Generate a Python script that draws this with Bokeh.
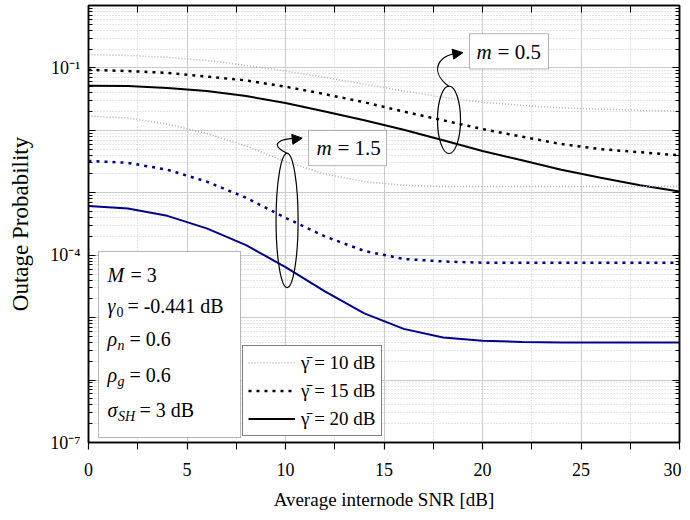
from bokeh.plotting import figure
from bokeh.embed import file_html
from bokeh.resources import INLINE
from bokeh.models import (FixedTicker, LogAxis, LinearAxis, Range1d, LinearScale, Legend,
                          LegendItem, Label, BoxAnnotation, Arrow, NormalHead,
                          CustomJSTickFormatter)

# ---------------- data ----------------
snr_db = [0, 2, 4, 6, 8, 10, 12, 14, 16, 18, 20, 22, 24, 26, 28, 30]

# m = 0.5
pout_m05_g10 = [0.164, 0.158, 0.148, 0.132, 0.110, 0.0891, 0.0708, 0.0550, 0.0427, 0.0339,
                0.0282, 0.0251, 0.0229, 0.0219, 0.0209, 0.0204]
pout_m05_g15 = [0.0933, 0.0891, 0.0832, 0.0724, 0.0631, 0.0501, 0.0380, 0.0282, 0.0200, 0.0145,
                0.0105, 0.00794, 0.00603, 0.00501, 0.00447, 0.00398]
pout_m05_g20 = [0.0519, 0.0513, 0.0479, 0.0427, 0.0355, 0.0275, 0.0200, 0.0145, 0.0102, 0.00692,
                0.00468, 0.00331, 0.00234, 0.00174, 0.00132, 0.00105]
# m = 1.5
pout_m15_g10 = [0.0170, 0.0158, 0.0126, 0.00891, 0.00562, 0.00316, 0.00200, 0.00151, 0.00132, 0.00126,
                0.00126, 0.00126, 0.00126, 0.00126, 0.00126, 0.00126]
pout_m15_g15 = [3.24e-3, 3.02e-3, 2.34e-3, 1.51e-3, 8.32e-4, 3.98e-4, 2.00e-4, 1.17e-4, 8.71e-5, 7.94e-5,
                7.59e-5, 7.59e-5, 7.59e-5, 7.59e-5, 7.59e-5, 7.59e-5]
pout_m15_g20 = [6.17e-4, 5.62e-4, 4.27e-4, 2.69e-4, 1.45e-4, 6.46e-5, 2.63e-5, 1.17e-5, 6.61e-6, 4.79e-6,
                4.27e-6, 4.07e-6, 3.98e-6, 3.98e-6, 3.98e-6, 3.98e-6]

x_major = [0, 5, 10, 15, 20, 25, 30]
x_minor = [2.5, 7.5, 12.5, 17.5, 22.5, 27.5]
y_major = [1e-7, 1e-6, 1e-5, 1e-4, 1e-3, 1e-2, 1e-1, 1.0]
y_labels = {1e-7: "10\u207b\u2077", 1e-6: "", 1e-5: "", 1e-4: "10\u207b\u2074", 1e-3: "", 1e-2: "",
            1e-1: "10\u207b\u00b9", 1.0: ""}
y_minor = [k * 10.0 ** e for e in range(-7, 0) for k in range(2, 10)]

legend_labels = ["\u03b3\u0304 = 10 dB", "\u03b3\u0304 = 15 dB", "\u03b3\u0304 = 20 dB"]

FONT = "Liberation Serif"
NAVY = "#00008b"

# ---------------- figure ----------------
p = figure(frame_width=591, frame_height=437, y_axis_type="log",
           x_range=Range1d(0, 30), y_range=Range1d(1e-7, 1.0),
           output_backend="svg", toolbar_location=None,
           min_border_left=88, min_border_right=2, min_border_top=5, min_border_bottom=70)
p.extra_y_ranges = {"dec": Range1d(-7, 0)}
p.extra_y_scales = {"dec": LinearScale()}
p.outline_line_color = "black"
p.outline_line_width = 1.5

xt = FixedTicker(ticks=x_major, minor_ticks=x_minor)
yt = FixedTicker(ticks=y_major, minor_ticks=y_minor)

xa = p.xaxis[0]
xa.ticker = xt
xa.axis_label = "Average internode SNR [dB]"
ya = p.yaxis[0]
ya.ticker = yt
ya.axis_label = "Outage Probability"
ya.major_label_overrides = y_labels

for ax in (xa, ya):
    ax.axis_label_text_font = FONT
    ax.axis_label_text_font_style = "normal"
    ax.axis_label_text_color = "black"
    ax.major_label_text_font = FONT
    ax.major_label_text_font_size = "18px"
    ax.major_label_text_color = "black"
    ax.axis_line_width = 1.5
    ax.major_tick_line_width = 1.2
    ax.minor_tick_line_width = 1.0
xa.axis_label_text_font_size = "19px"
ya.axis_label_text_font_size = "23px"

xa.major_tick_in = 0
xa.major_tick_out = 7
xa.minor_tick_in = 0
xa.minor_tick_out = 7
xa.major_label_standoff = 13
xa.axis_label_standoff = 10

ya.major_tick_in = 7
ya.major_tick_out = 0
ya.minor_tick_in = 4
ya.minor_tick_out = 0
ya.major_label_standoff = 8
ya.axis_label_standoff = 14

blank = CustomJSTickFormatter(code="return ''")
top = LinearAxis(ticker=xt, formatter=blank, major_tick_in=7, major_tick_out=0,
                 minor_tick_in=7, minor_tick_out=0, major_label_standoff=0,
                 major_label_text_font_size="0px", axis_line_width=1.5)
right = LogAxis(ticker=yt, formatter=blank, major_tick_in=7, major_tick_out=0,
                minor_tick_in=4, minor_tick_out=0, major_label_standoff=0,
                major_label_text_font_size="0px", axis_line_width=1.5)
p.add_layout(top, "above")
p.add_layout(right, "right")

GRID = "#cccccc"
p.xgrid.ticker = xt
p.ygrid.ticker = yt
for g in (p.xgrid, p.ygrid):
    g.grid_line_color = GRID
    g.grid_line_width = 1
    g.minor_grid_line_color = GRID
    g.minor_grid_line_dash = "1 2"
    g.minor_grid_line_width = 1

# ---------------- curves ----------------
r_b10 = p.line(snr_db, pout_m05_g10, line_color="#b4b4b4", line_width=1.5, line_dash="1 2")
r_b15 = p.line(snr_db, pout_m05_g15, line_color="black", line_width=2.5, line_dash="3 5")
r_b20 = p.line(snr_db, pout_m05_g20, line_color="black", line_width=2)
p.line(snr_db, pout_m15_g10, line_color="#a8a8dc", line_width=1.5, line_dash="1 2")
p.line(snr_db, pout_m15_g15, line_color=NAVY, line_width=2.5, line_dash="3 5")
p.line(snr_db, pout_m15_g20, line_color=NAVY, line_width=2)

# ---------------- annotations (ellipses + curved arrows) ----------------
p.ellipse(x=[18.30, 10.08], y=[-1.831, -3.444], width=[1.17, 1.12], height=[1.08, 2.15],
          fill_color=None, line_color="black", line_width=1.2, y_range_name="dec")
p.bezier(x0=[18.27, 10.10], y0=[-1.290, -2.371], x1=[18.98, 10.81], y1=[-0.758, -2.129],
         cx0=[17.21, 9.09], cy0=[-1.032, -2.226], cx1=[17.82, 9.70], cy1=[-0.758, -2.113],
         line_color="black", line_width=1.2, y_range_name="dec")
for xs, ys, xe, ye in [(18.6, -0.775, 19.0, -0.755), (10.45, -2.14, 10.85, -2.125)]:
    p.add_layout(Arrow(x_start=xs, y_start=ys, x_end=xe, y_end=ye, y_range_name="dec",
                       line_width=1.2, line_color="black",
                       end=NormalHead(size=10, fill_color="black", line_color="black")))

def add_text(x, y, txt, xoff=0, yoff=0, size="20px", style="normal"):
    p.add_layout(Label(x=x, y=y, text=txt, x_offset=xoff, y_offset=yoff, y_range_name="dec",
                       text_font=FONT, text_font_size=size, text_font_style=style,
                       text_color="black", text_baseline="middle", text_align="left"))

# m boxes
p.add_layout(BoxAnnotation(left=19.34, right=23.35, top=-0.452, bottom=-1.016, y_range_name="dec",
                           fill_color="white", fill_alpha=1, line_color="black", line_width=1))
add_text(19.70, -0.742, "m", style="italic", size="21px")
add_text(19.70, -0.742, "= 0.5", xoff=21, size="21px")
p.add_layout(BoxAnnotation(left=11.17, right=15.13, top=-2.0, bottom=-2.565, y_range_name="dec",
                           fill_color="white", fill_alpha=1, line_color="black", line_width=1))
add_text(11.57, -2.29, "m", style="italic", size="21px")
add_text(11.57, -2.29, "= 1.5", xoff=21, size="21px")

# parameter box
p.add_layout(BoxAnnotation(left=0.51, right=7.72, top=-3.94, bottom=-6.92, y_range_name="dec",
                           fill_color="white", fill_alpha=1, line_color="black", line_width=1))
u0 = 0.96
add_text(u0, -4.31, "M", style="italic")
add_text(u0, -4.31, "= 3", xoff=23)
add_text(u0, -4.81, "\u03b3", style="italic")
add_text(u0, -4.81, "0", xoff=9, yoff=-6, size="14px")
add_text(u0, -4.81, "= -0.441 dB", xoff=20)
add_text(u0, -5.35, "\u03c1", style="italic")
add_text(u0, -5.35, "n", xoff=10, yoff=-6, size="14px", style="italic")
add_text(u0, -5.35, "= 0.6", xoff=22)
add_text(u0, -5.92, "\u03c1", style="italic")
add_text(u0, -5.92, "g", xoff=10, yoff=-6, size="14px", style="italic")
add_text(u0, -5.92, "= 0.6", xoff=22)
add_text(u0, -6.48, "\u03c3", style="italic")
add_text(u0, -6.48, "SH", xoff=10.5, yoff=-6, size="14px", style="italic")
add_text(u0, -6.48, "= 3 dB", xoff=32)

# legend
legend = Legend(items=[LegendItem(label=legend_labels[0], renderers=[r_b10]),
                       LegendItem(label=legend_labels[1], renderers=[r_b15]),
                       LegendItem(label=legend_labels[2], renderers=[r_b20])],
                location=(154, 6), label_text_font=FONT, label_text_font_size="19px",
                label_text_color="black",
                glyph_width=47, glyph_height=23, label_standoff=6, spacing=5, padding=5,
                margin=0, border_line_color="black", border_line_width=1,
                background_fill_color="white", background_fill_alpha=1)
p.add_layout(legend, "center")

open("out.html", "w").write(file_html(p, INLINE))
